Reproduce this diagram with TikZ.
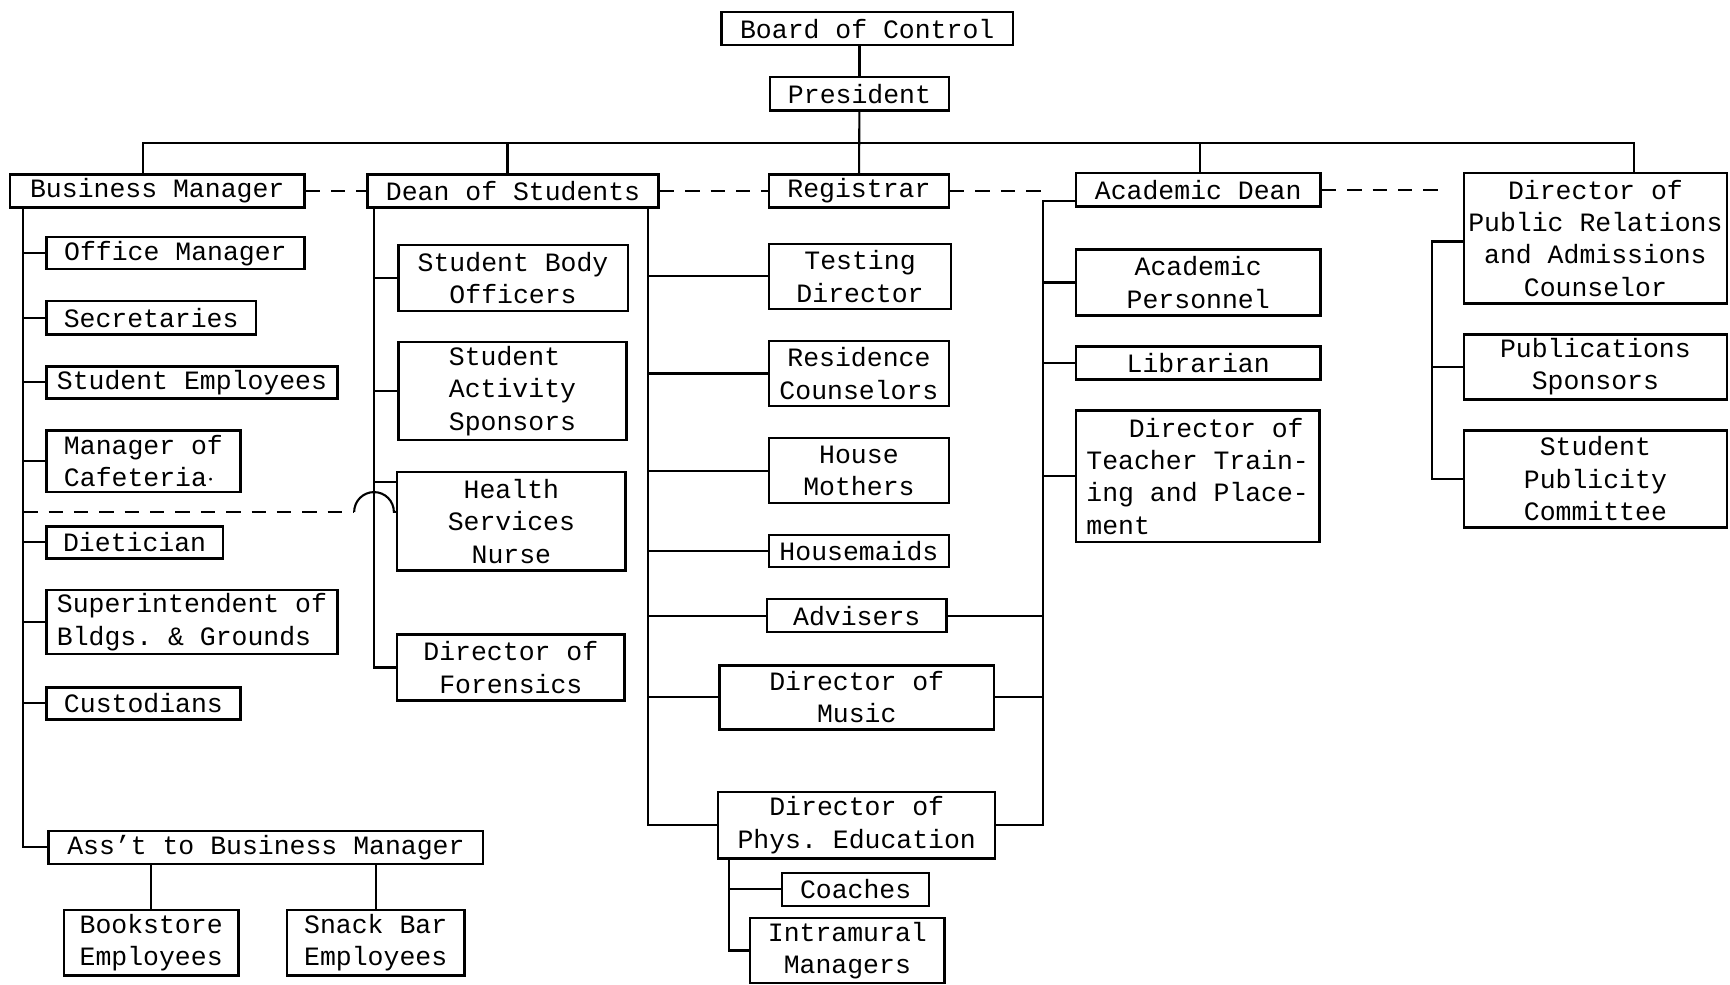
\documentclass[tikz,border=0pt]{standalone}
\usepackage{fontspec}
\setmainfont{Liberation Mono}
\frenchspacing
\begin{document}
\begin{tikzpicture}[x=1pt,y=1pt,
  orgbox/.style={draw, line width=2.2pt, inner sep=0pt, align=center,
    font=\fontsize{24}{29.3}\selectfont},
  conn/.style={line width=1.9pt},
  dashline/.style={line width=1.9pt, dash pattern=on 13pt off 10pt}]
% box from its corners (x1,y1)-(x2,y2), y measured downwards
\newcommand\orgnode[7][]{%
  \node[orgbox,#1,minimum width={(#5-#3)*1pt},minimum height={(#6-#4)*1pt}]
    (#2) at ({(#3+#5)/2},{-(#4+#6)/2}) {#7};}
\useasboundingbox (0,0) rectangle (1568,-892);

% top levels
\orgnode{board}{654}{11}{918}{41}{Board of Control}
\orgnode{pres}{698}{70}{860}{100}{President}
\orgnode{bm}{9}{158}{276}{188}{Business Manager}
\orgnode{dean}{333}{158}{597}{188}{Dean of Students}
\orgnode{reg}{697}{158}{860}{188}{Registrar}
\orgnode{ad}{975}{157}{1197}{187}{Academic Dean}
\orgnode{pr}{1327}{157}{1565}{275}{Director of\\Public Relations\\and Admissions\\Counselor}

% business side
\orgnode{om}{42}{215}{276}{244}{Office Manager}
\orgnode{sec}{42}{273}{232}{303}{Secretaries}
\orgnode{se}{42}{332}{306}{361}{Student Employees}
\orgnode[align=left]{mc}{42}{390}{218}{446}{Manager of\\Cafeteria$\cdot$}
\orgnode{diet}{42}{477}{202}{506}{Dietician}
\orgnode[align=left]{sup}{42}{535}{306}{593}{Superintendent of\\Bldgs. \& Grounds}
\orgnode{cust}{42}{623}{218}{652}{Custodians}
\orgnode{asst}{44}{753}{438}{783}{Ass'{}t to Business Manager}
\orgnode{book}{58}{825}{216}{884}{Bookstore\\Employees}
\orgnode{snack}{260}{825}{421}{884}{Snack Bar\\Employees}

% student affairs
\orgnode{sbo}{361}{222}{569}{282}{Student Body\\Officers}
\orgnode[align=left]{sas}{361}{310}{568}{399}{Student\\Activity\\Sponsors}
\orgnode{hsn}{360}{428}{567}{517}{Health\\Services\\Nurse}
\orgnode{forens}{360}{575}{566}{635}{Director of\\Forensics}
\orgnode{test}{697}{221}{862}{280}{Testing\\Director}
\orgnode{resc}{697}{309}{860}{368}{Residence\\Counselors}
\orgnode{hm}{697}{397}{860}{456}{House\\Mothers}
\orgnode{maids}{697}{485}{860}{514}{Housemaids}
\orgnode{adv}{695}{543}{858}{573}{Advisers}
\orgnode{music}{652}{603}{901}{661}{Director of\\Music}
\orgnode{pe}{651}{718}{902}{778}{Director of\\Phys. Education}
\orgnode{coach}{709}{791}{842}{821}{Coaches}
\orgnode{intra}{680}{832}{856}{891}{Intramural\\Managers}

% academic side
\orgnode{ap}{975}{226}{1197}{286}{Academic\\Personnel}
\orgnode{lib}{975}{314}{1197}{344}{Librarian}
\orgnode[align=left]{dtt}{975}{372}{1196}{491}{\hspace*{1.6em}Director of\\Teacher Train-\\ing and Place-\\ment}
\orgnode{pubs}{1327}{303}{1565}{362}{Publications\\Sponsors}
\orgnode{spc}{1327}{390}{1565}{478}{Student\\Publicity\\Committee}

% column and bus positions
\coordinate (busL) at (130,-130);
\coordinate (busR) at (1481,-130);
\coordinate (busD) at (460,-130);
\coordinate (busA) at (1088,-130);
\coordinate (bmv) at (21,0);
\coordinate (dv) at (339,0);
\coordinate (rv) at (587,0);
\coordinate (av) at (945,0);
\coordinate (pv) at (1298,0);
\coordinate (pev) at (661,0);
\coordinate (hy) at (0,-464);
\path (hsn.north west) ++(0,-10) coordinate (hsb);
\path (ad.south west) ++(0,6) coordinate (adb);
\path (pr.north west) ++(0,-63) coordinate (prb);
\path (pr.west |- ad.east) ++(-17,0) coordinate (dq);

% line of authority
\draw[conn] (pres.north |- board.south) -- (pres.north);
\draw[conn] (pres) -- (reg);
\draw[conn] (bm.north -| busL) -- (busL) -- (busR) -- (busR |- pr.north);
\draw[conn] (busD) -- (busD |- dean.north);
\draw[conn] (busA) -- (busA |- ad.north);

% business manager staff
\draw[conn] (bm.south -| bmv) |- (asst.west);
\foreach \n in {om,sec,se,mc,diet,sup,cust}
  \draw[conn] (bmv |- \n.west) -- (\n.west);
\draw[conn] (asst.south -| book.north) -- (book.north);
\draw[conn] (asst.south -| snack.north) -- (snack.north);

% dean of students staff
\draw[conn] (dean.south -| dv) |- (forens.west);
\foreach \n in {sbo,sas}
  \draw[conn] (dv |- \n.west) -- (\n.west);
\draw[conn] (dv |- hsb) -- (hsb);
\draw[conn] (dean.south -| rv) |- (pe.west);
\foreach \n in {test,resc,hm,maids,adv,music}
  \draw[conn] (rv |- \n.west) -- (\n.west);
\draw[conn] (pe.south -| pev) |- (intra.west);
\draw[conn] (pev |- coach.west) -- (coach.west);

% academic dean staff
\draw[conn] (adb) -- (adb -| av) -- (av |- pe.east) -- (pe.east);
\foreach \n in {ap,lib,dtt}
  \draw[conn] (av |- \n.west) -- (\n.west);
\draw[conn] (adv.east) -- (av |- adv.east);
\draw[conn] (music.east) -- (av |- music.east);

% public relations staff
\draw[conn] (prb) -| (pv |- spc.west) -- (spc.west);
\draw[conn] (pv |- pubs.west) -- (pubs.west);

% coordination lines
\draw[dashline] (bm.east) -- (dean.west);
\draw[dashline] (dean.east) -- (reg.west);
\draw[dashline] (reg.east) -- (reg.east -| av);
\draw[dashline] (ad.east) -- (dq);
\draw[dashline] (bmv |- hy) -- ([xshift=-18pt]dv |- hy);
\draw[conn] ([xshift=-18pt]dv |- hy) arc[start angle=180,end angle=0,radius=18] -- (hsn.west |- hy);
\end{tikzpicture}
\end{document}
